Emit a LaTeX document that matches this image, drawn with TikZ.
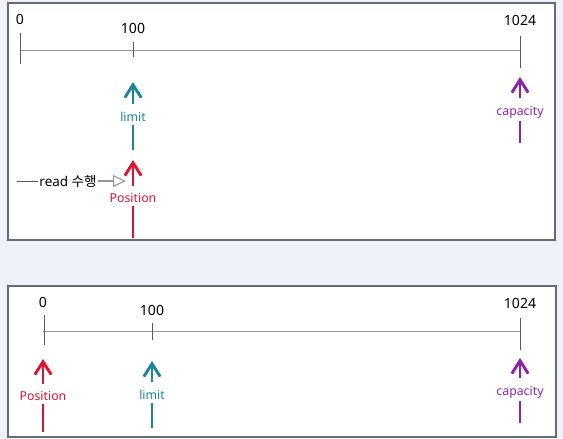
\documentclass[tikz,border=0pt]{standalone}
\usepackage{fontspec}
\setmainfont{Noto Sans}
\newfontfamily\krfont{Noto Sans CJK KR}
\usetikzlibrary{arrows.meta,positioning}
\definecolor{bgblue}{RGB}{239,242,251}
\definecolor{posred}{RGB}{222,18,50}
\definecolor{limteal}{RGB}{28,134,148}
\definecolor{capviolet}{RGB}{140,36,168}
\definecolor{axisgray}{RGB}{150,150,150}
\definecolor{tickgray}{RGB}{90,90,90}
\definecolor{framegray}{RGB}{105,107,114}

\tikzset{
	panel/.style={draw=framegray, fill=white, line width=1.3pt},
	axisline/.style={draw=axisgray, line width=0.8pt},
	tickmark/.style={draw=tickgray, line width=0.8pt},
	numlbl/.style={font=\fontsize{12}{14}\selectfont, inner sep=1pt},
	ptrlbl/.style={font=\fontsize{10.5}{12}\selectfont, inner sep=2.5pt},
	ptr/.style={line width=2.5pt},
	ptrhead/.style={ptr, shorten <=4pt, -{Straight Barb[length=11pt,width=14pt]}},
}

\begin{document}
\begin{tikzpicture}[x=0.03cm, y=-0.03cm]
	\useasboundingbox[fill=bgblue] (0,0) rectangle (563,438);

	% before read
	\draw[panel] (8,3) rectangle (555,240);
	\coordinate (a0) at (20,50);
	\coordinate (a1024) at (520,50);
	\draw[axisline] (a0) -- (a1024);
	\draw[tickmark] (20,33) -- (20,64);
	\draw[tickmark] (133,42) -- (133,57);
	\draw[tickmark] (520,36) -- (520,68);
	\node[numlbl] (n0) at (20,19) {0};
	\node[numlbl] (n100) at (133,28) {100};
	\node[numlbl] (n1024) at (520,20) {1024};

	\node[ptrlbl, text=limteal] (lim) at (133,117) {limit};
	\coordinate (limbase) at (133,150);
	\coordinate (limtip) at (133,82);
	\draw[ptr, limteal] (limbase) -- (lim);
	\draw[ptrhead, limteal] (lim) -- (limtip);

	\node[ptrlbl, text=capviolet] (cap) at (520,112) {capacity};
	\coordinate (capbase) at (520,143);
	\coordinate (captip) at (520,77);
	\draw[ptr, capviolet] (capbase) -- (cap);
	\draw[ptrhead, capviolet] (cap) -- (captip);

	\node[ptrlbl, text=posred] (pos) at (133,198) {Position};
	\coordinate (posbase) at (133,238);
	\coordinate (postip) at (133,160);
	\draw[ptr, posred] (posbase) -- (pos);
	\draw[ptrhead, posred] (pos) -- (postip);

	\node[font=\fontsize{11.5}{13}\selectfont, inner sep=1pt] (rd) at (68,181) {read {\krfont 수행}};
	\coordinate (rdstart) at (17,181);
	\coordinate (rdend) at (126,181);
	\draw[tickgray, line width=0.8pt] (rdstart) -- (rd);
	\draw[axisgray, line width=0.9pt, -{Triangle[open, length=11pt, width=10pt]}] (rd) -- (rdend);

	% after read
	\draw[panel] (8,286) rectangle (556,437);
	\coordinate (b0) at (43,331);
	\coordinate (b1024) at (520,331);
	\draw[axisline] (b0) -- (b1024);
	\draw[tickmark] (44,315) -- (44,345);
	\draw[tickmark] (152,323) -- (152,340);
	\draw[tickmark] (520,318) -- (520,350);
	\node[numlbl] (m0) at (43,302) {0};
	\node[numlbl] (m100) at (152,310) {100};
	\node[numlbl] (m1024) at (520,303) {1024};

	\node[ptrlbl, text=posred] (pos2) at (43,396) {Position};
	\coordinate (pos2base) at (43,432);
	\coordinate (pos2tip) at (43,359);
	\draw[ptr, posred] (pos2base) -- (pos2);
	\draw[ptrhead, posred] (pos2) -- (pos2tip);

	\node[ptrlbl, text=limteal] (lim2) at (152,395) {limit};
	\coordinate (lim2base) at (152,428);
	\coordinate (lim2tip) at (152,361);
	\draw[ptr, limteal] (lim2base) -- (lim2);
	\draw[ptrhead, limteal] (lim2) -- (lim2tip);

	\node[ptrlbl, text=capviolet] (cap2) at (520,392) {capacity};
	\coordinate (cap2base) at (520,423);
	\coordinate (cap2tip) at (520,358);
	\draw[ptr, capviolet] (cap2base) -- (cap2);
	\draw[ptrhead, capviolet] (cap2) -- (cap2tip);
\end{tikzpicture}
\end{document}
